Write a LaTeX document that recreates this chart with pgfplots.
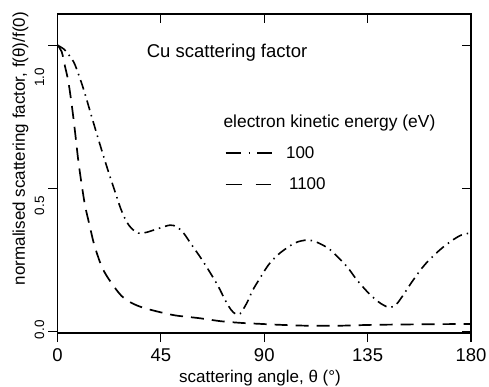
\documentclass[border=0pt]{standalone}
\usepackage{fontspec}
\setmainfont{Liberation Sans}
\usepackage{pgfplots}
\pgfplotsset{compat=1.18}
\begin{document}
\begin{tikzpicture}
\pgfplotsset{
  common/.style={
    at={(0pt,0pt)}, anchor=south west, scale only axis,
    width=413.5pt, height=319pt,
    xmin=0, xmax=180, ymin=-0.0045, ymax=1.109,
    xtick={0,45,90,135,180}, ytick={0,0.5,1},
    axis line style={line width=1.2pt},
    every tick/.style={line width=1.2pt, black},
    major tick length=9pt,
    /pgf/number format/assume math mode=true,
  }
}
\begin{axis}[common, xtick pos=right, ytick pos=right, tick align=inside,
  xticklabels={}, yticklabels={}]
\end{axis}
\begin{axis}[common, xtick pos=left, ytick pos=left, tick align=outside,
  xticklabel style={font=\fontsize{18.5}{21}\selectfont, yshift=-3pt},
  yticklabels={},
  extra y ticks={0.007,0.44,0.887},
  extra y tick labels={0.0,0.5,1.0},
  extra y tick style={major tick length=0pt,
    yticklabel style={font=\fontsize{13.5}{16}\selectfont, xshift=-13pt, rotate=90, anchor=south, inner sep=0pt}},
  xlabel={scattering angle, θ (°)},
  xlabel style={at={(axis description cs:0.4897,-0.154)}, anchor=base, font=\fontsize{17}{20}\selectfont},
  ylabel={normalised scattering factor, f(θ)/f(0)},
  ylabel style={at={(axis description cs:-0.0786,0.578)}, anchor=base, font=\fontsize{17}{20}\selectfont},
  legend style={at={(axis cs:72.7,0.654)}, anchor=north west, draw=none, fill=none,
    inner sep=0pt, row sep=14pt, column sep=11pt, font=\fontsize{17}{20}\selectfont},
  legend cell align=left,
]
\addplot[black, line width=1.6pt, smooth, dash pattern=on 10pt off 5pt on 1.5pt off 5pt,
  legend image code/.code={\draw[black, line width=1.6pt, dash pattern=on 15pt off 8pt on 1.5pt off 7pt on 15pt off 100pt] (0pt,0pt) -- (46.7pt,0pt);}]
coordinates {
(0,1.0)(3,0.985)(5.4,0.961)(7.6,0.932)(11.2,0.85)(14.9,0.75)(18.5,0.653)(22.1,0.56)
(25,0.49)(27.5,0.43)(30,0.385)(32.3,0.36)(35.2,0.344)(38.8,0.347)(44.6,0.362)(49,0.372)
(52,0.366)(55,0.343)(58,0.308)(62,0.262)(66,0.212)(70,0.158)(73,0.11)(75.5,0.077)
(77.5,0.062)(79.5,0.063)(82.4,0.10)(85,0.145)(88,0.185)(92,0.235)(96.9,0.275)
(103.4,0.31)(108.8,0.32)(113,0.312)(118.7,0.286)(125.9,0.228)(130.3,0.181)(136,0.13)
(141,0.097)(144.7,0.085)(148,0.1)(154.9,0.181)(160,0.235)(166.5,0.286)(172,0.32)
(176,0.338)(180,0.345)
};
\addlegendentry{100}
\addplot[black, line width=1.7pt, smooth, dash pattern=on 13pt off 8pt,
  legend image code/.code={\draw[black, line width=1.7pt, dash pattern=on 16.5pt off 13.5pt on 15pt off 100pt] (0pt,0pt) -- (45pt,0pt);}]
coordinates {
(0,1.0)(1.8,0.978)(3.3,0.925)(4.7,0.874)(6.2,0.792)(7.6,0.70)(9.1,0.594)(10.5,0.515)
(12,0.44)(14,0.37)(15.6,0.315)(17.1,0.275)(19.2,0.228)(21.4,0.195)(25,0.153)(28,0.124)
(31,0.106)(34.5,0.092)(38,0.082)(43.2,0.071)(47,0.064)(52,0.056)(62,0.047)(70.7,0.037)
(79.5,0.031)(86.7,0.028)(97,0.024)(108.5,0.021)(123,0.021)(137.5,0.024)(160,0.026)(180,0.027)
};
\addlegendentry{\kern3pt 1100}
\node[anchor=base west, inner sep=0pt, font=\fontsize{18.5}{22}\selectfont] at (axis cs:38.8,0.956) {Cu scattering factor};
\node[anchor=base west, inner sep=0pt, font=\fontsize{17.4}{21}\selectfont] at (axis cs:72.2,0.712) {electron kinetic energy (eV)};
\end{axis}
\pgfresetboundingbox
\path[use as bounding box] (-57.5pt,-53pt) rectangle (431.5pt,333pt);
\end{tikzpicture}
\end{document}
